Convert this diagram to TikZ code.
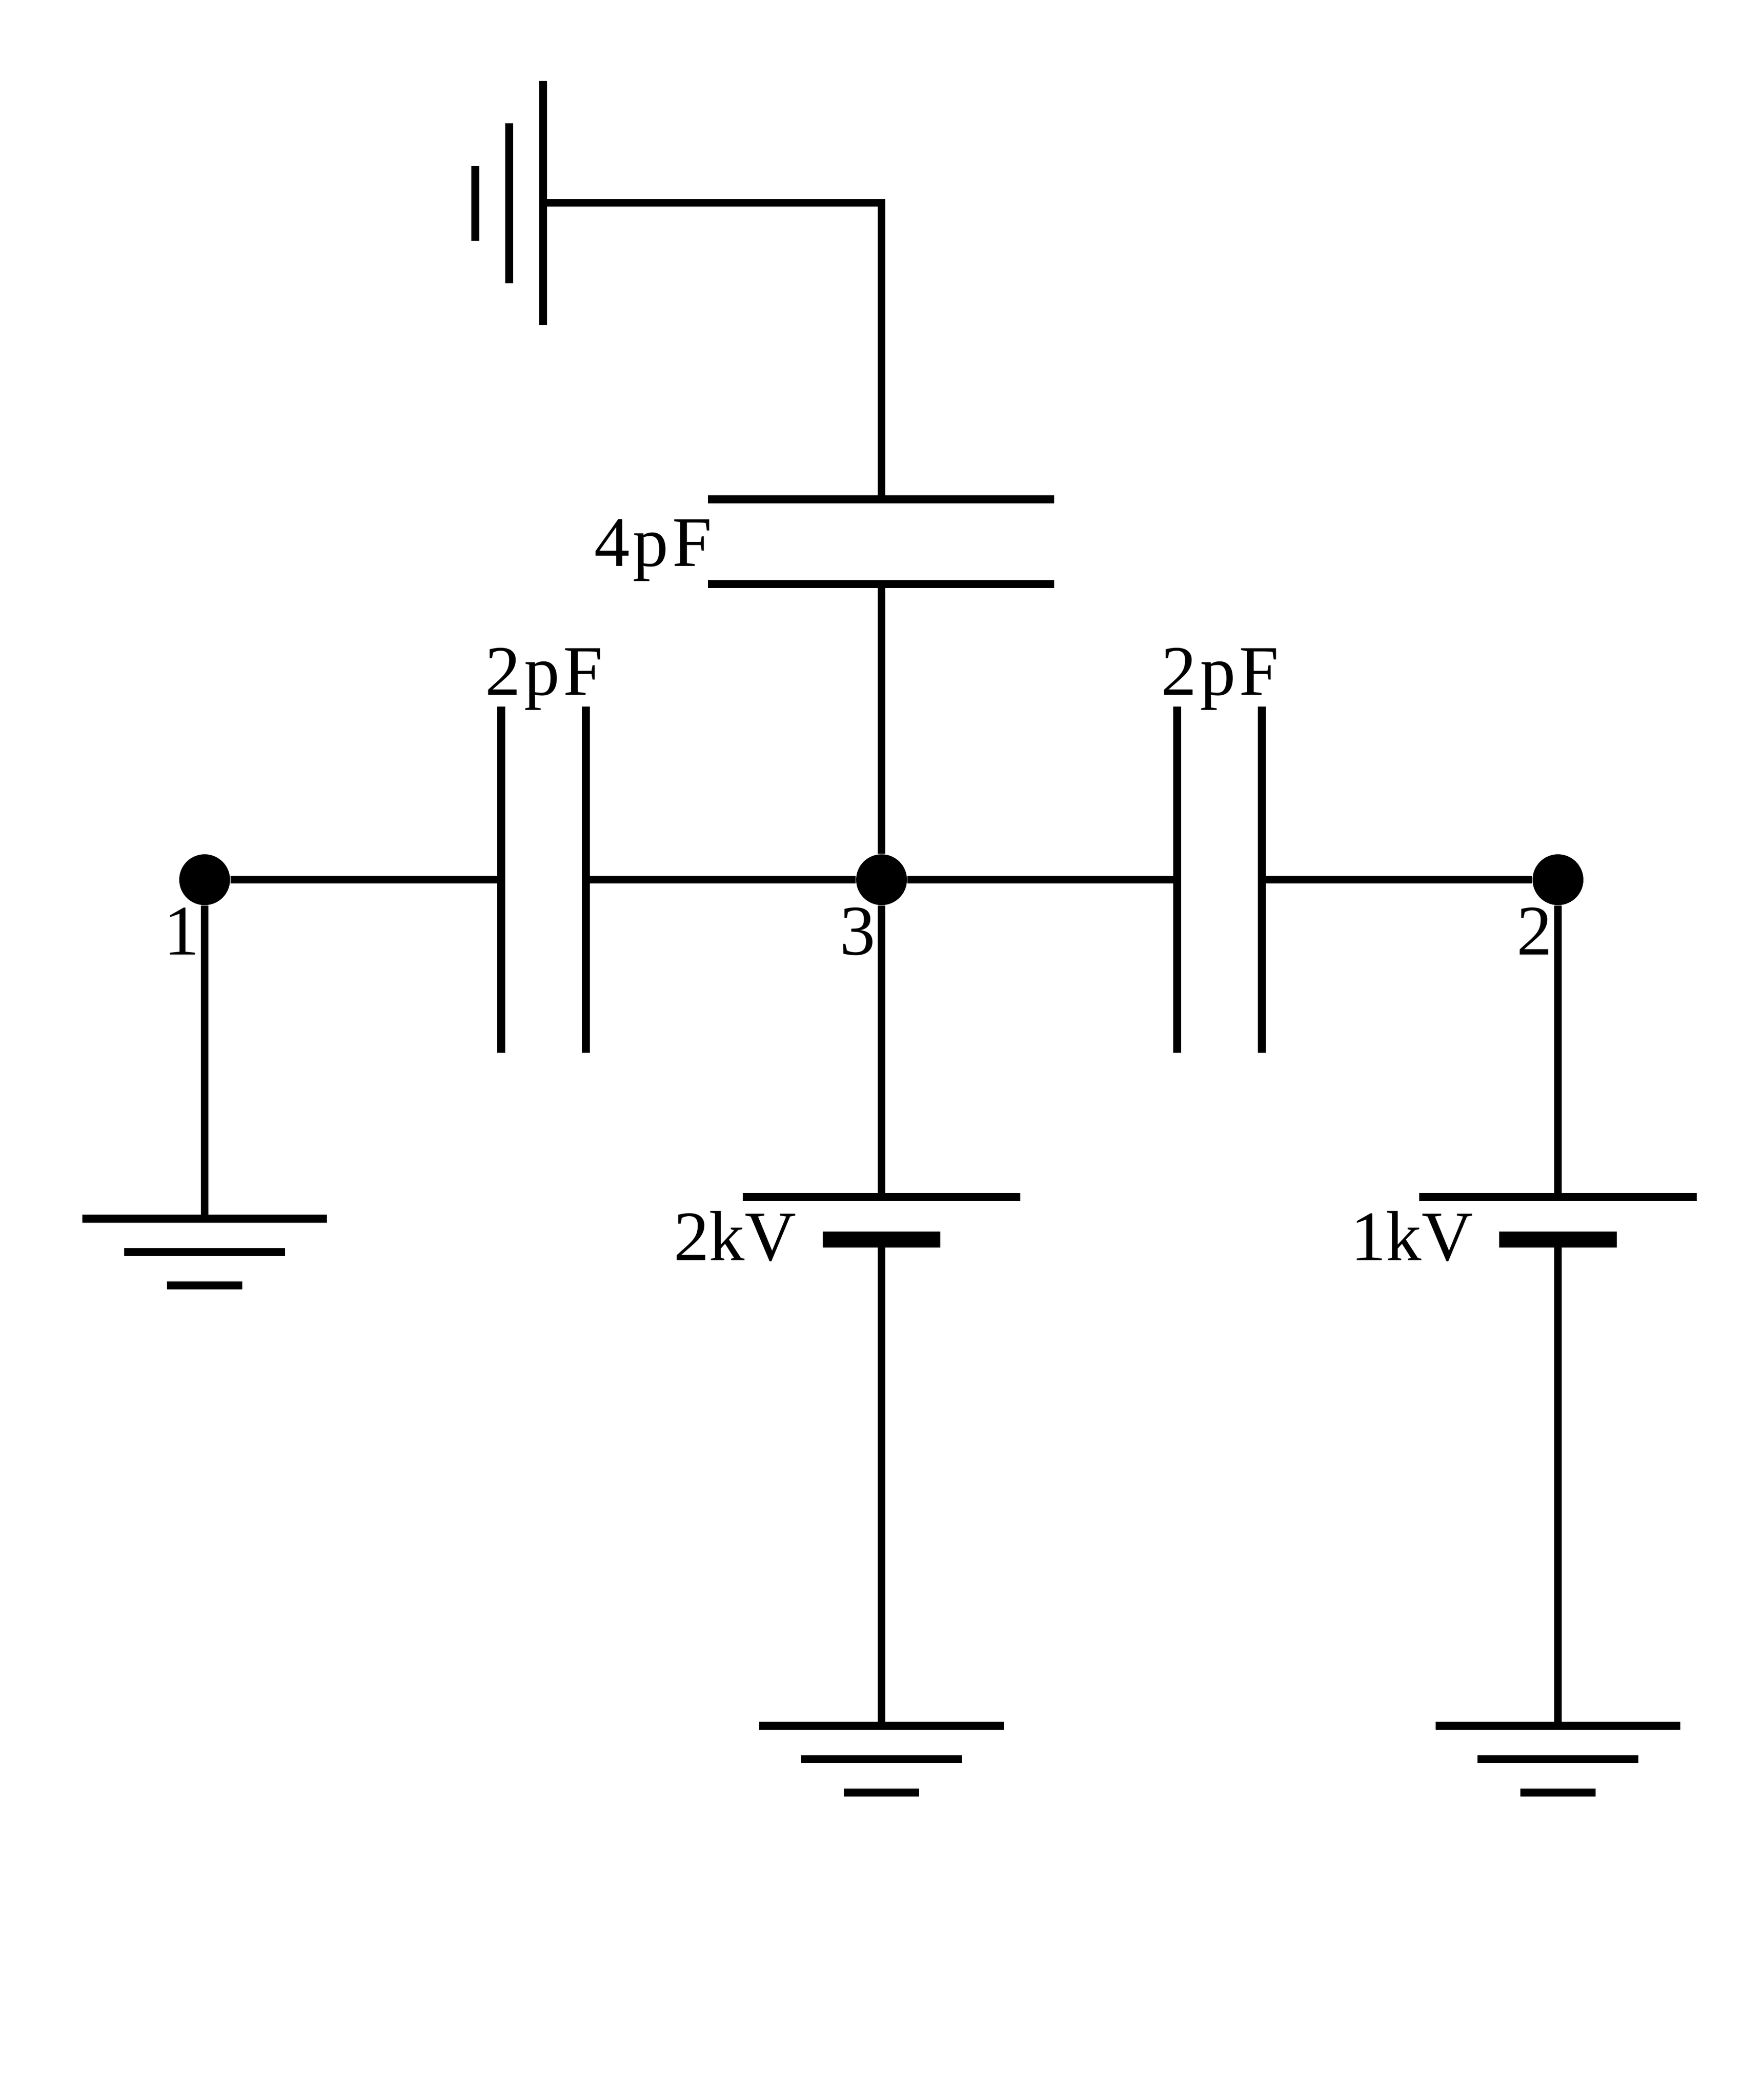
\documentclass[tikz,border=0pt]{standalone}
\usepackage{fontspec}
\newfontfamily\wertfont[LetterSpace=5]{Liberation Serif}
\newfontfamily\kvfont{Liberation Serif}
\tikzset{
  wire/.style={line width=0.165cm},
  platte/.style={line width=0.17cm},
  dick/.style={line width=0.34cm},
  punkt/.style={circle,fill=black,inner sep=0pt,minimum size=1.08cm},
  wert/.style={inner sep=0pt,font=\wertfont\fontsize{43}{50}\selectfont},
  kv/.style={inner sep=0pt,font=\kvfont\fontsize{43}{50}\selectfont}
}
\begin{document}
\begin{tikzpicture}[yscale=-1]
\useasboundingbox (0,0) rectangle (37.5,44.64);

%Knoten
\node[punkt] (p1) at (4.35,18.70) {};
\node[punkt] (p3) at (18.74,18.70) {};
\node[punkt] (p2) at (33.12,18.70) {};
\node[wert,anchor=base] (l1) at (3.86,20.29) {1};
\node[wert,anchor=base] (l3) at (18.23,20.29) {3};
\node[wert,anchor=base] (l2) at (32.62,20.29) {2};

%Kondensatoren links und rechts
\foreach \name/\x in {cl/11.55,cr/25.92}{
  \coordinate (\name a) at (\x-0.9,18.70);
  \coordinate (\name b) at (\x+0.9,18.70);
  \draw[platte] (\x-0.9,15.02) to (\x-0.9,22.38);
  \draw[platte] (\x+0.9,15.02) to (\x+0.9,22.38);
}
\node[wert,anchor=base] (lcl) at (11.57,14.77) {2pF};
\node[wert,anchor=base] (lcr) at (25.94,14.77) {2pF};
\draw[wire] (p1) to (cla);
\draw[wire] (clb) to (p3);
\draw[wire] (p3) to (cra);
\draw[wire] (crb) to (p2);

%Kondensator oben
\coordinate (co) at (18.74,10.61);
\coordinate (cu) at (18.74,12.41);
\draw[platte] (15.05,10.61) to (22.41,10.61);
\draw[platte] (15.05,12.41) to (22.41,12.41);
\node[wert,anchor=base east] (lco) at (15.14,12.03) {4pF};
\draw[wire] (cu) to (p3);

%Erde oben
\coordinate (e0) at (11.54,4.31);
\draw[platte] (11.54,1.72) to (11.54,6.91);
\draw[platte] (10.82,2.62) to (10.82,6.02);
\draw[platte] (10.10,3.53) to (10.10,5.12);
\draw[wire] (e0) -| (co);

%Batterien
\foreach \name/\x in {b3/18.74,b2/33.12}{
  \coordinate (\name o) at (\x,25.44);
  \coordinate (\name u) at (\x,26.35);
  \draw[platte] (\x-2.95,25.44) to (\x+2.95,25.44);
  \draw[dick] (\x-1.25,26.35) to (\x+1.25,26.35);
}
\node[kv,anchor=base east] (lb3) at (16.93,26.79) {2kV};
\node[kv,anchor=base east] (lb2) at (31.32,26.79) {1kV};
\draw[wire] (p3) to (b3o);
\draw[wire] (p2) to (b2o);

%Erde unten
\foreach \name/\x/\y in {g1/4.35/25.90,g3/18.74/36.68,g2/33.12/36.68}{
  \coordinate (\name) at (\x,\y);
  \draw[platte] (\x-2.60,\y) to (\x+2.60,\y);
  \draw[platte] (\x-1.71,\y+0.71) to (\x+1.71,\y+0.71);
  \draw[platte] (\x-0.80,\y+1.42) to (\x+0.80,\y+1.42);
}
\draw[wire] (p1) to (g1);
\draw[wire] (b3u) to (g3);
\draw[wire] (b2u) to (g2);

\end{tikzpicture}
\end{document}
